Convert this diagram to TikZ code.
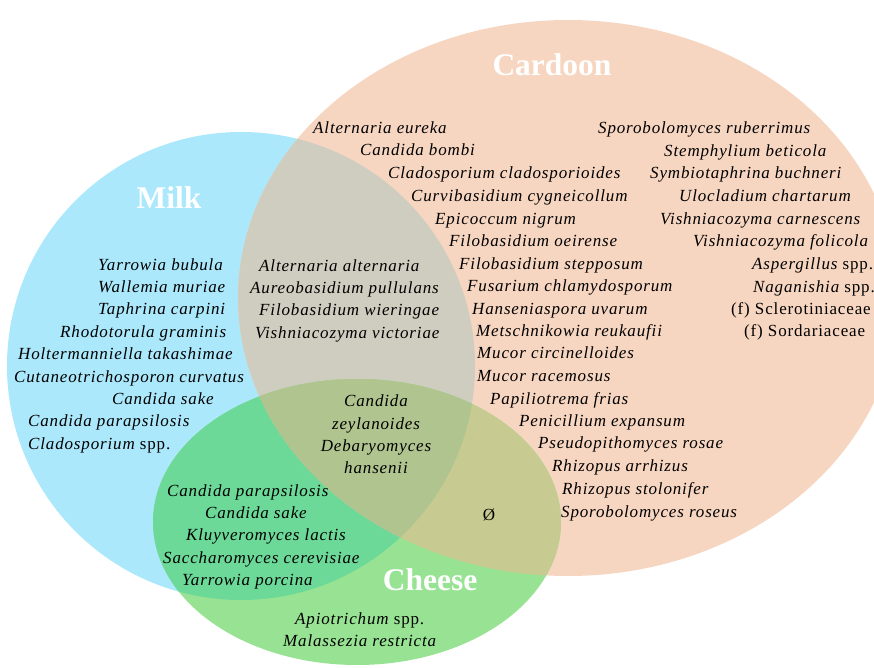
\documentclass[tikz,border=0pt]{standalone}
\usepackage{fontspec}
\setmainfont{Liberation Serif}
\newfontfamily\lstfont{Liberation Serif}[LetterSpace=5]
\definecolor{milkc}{HTML}{ABE8FB}
\definecolor{cardc}{HTML}{F7D6C1}
\definecolor{cheesec}{HTML}{98E393}
\definecolor{mcardc}{HTML}{CFCDBF}
\definecolor{mcheesec}{HTML}{6CD998}
\definecolor{ccheesec}{HTML}{C8CB91}
\definecolor{allc}{HTML}{B0C48F}
\begin{document}
\begin{tikzpicture}[x=1pt,y=-1pt,
  lbl/.style={anchor=base west, inner sep=0pt, font=\lstfont\fontsize{17}{18}\selectfont\itshape},
  clbl/.style={anchor=base, inner sep=0pt, font=\lstfont\fontsize{17}{18}\selectfont\itshape},
  ttl/.style={font=\fontsize{31.5}{34}\selectfont\bfseries, text=white, inner sep=0pt}]
\useasboundingbox (0,0) rectangle (874,668);
\clip (0,0) rectangle (874,668);
% base sets
\fill[milkc] (241,366) circle [radius=234pt];
\fill[cardc] (568,298) ellipse [x radius=330pt, y radius=278pt];
\begin{scope}
  \clip (241,366) circle [radius=234pt];
  \fill[mcardc] (568,298) ellipse [x radius=330pt, y radius=278pt];
\end{scope}
\fill[cheesec] (357,522) ellipse [x radius=204pt, y radius=143pt];
\begin{scope}
  \clip (241,366) circle [radius=234pt];
  \fill[mcheesec] (357,522) ellipse [x radius=204pt, y radius=143pt];
\end{scope}
\begin{scope}
  \clip (568,298) ellipse [x radius=330pt, y radius=278pt];
  \fill[ccheesec] (357,522) ellipse [x radius=204pt, y radius=143pt];
\end{scope}
\begin{scope}
  \clip (241,366) circle [radius=234pt];
  \clip (568,298) ellipse [x radius=330pt, y radius=278pt];
  \fill[allc] (357,522) ellipse [x radius=204pt, y radius=143pt];
\end{scope}
% titles
\node[ttl] (tcard) at (552,65) {Cardoon};
\node[ttl] (tmilk) at (169,198) {Milk};
\node[ttl] (tcheese) at (430,580) {Cheese};
% milk only
\node[lbl] (m1) at (98,270) {Yarrowia bubula};
\node[lbl] (m2) at (98,292) {Wallemia muriae};
\node[lbl] (m3) at (98,314) {Taphrina carpini};
\node[lbl] (m4) at (60,337) {Rhodotorula graminis};
\node[lbl] (m5) at (18,359) {Holtermanniella takashimae};
\node[lbl] (m6) at (14,382) {Cutaneotrichosporon curvatus};
\node[lbl] (m7) at (112,404) {Candida sake};
\node[lbl] (m8) at (28,426) {Candida parapsilosis};
\node[lbl] (m9) at (28,449) {Cladosporium \upshape spp.};
% milk and cardoon
\node[lbl] (mc1) at (259,271) {Alternaria alternaria};
\node[lbl] (mc2) at (250,293) {Aureobasidium pullulans};
\node[lbl] (mc3) at (259,315) {Filobasidium wieringae};
\node[lbl] (mc4) at (255,338) {Vishniacozyma victoriae};
% cardoon left column
\node[lbl] (c1) at (313,134) {Alternaria eureka};
\node[lbl] (c2) at (360,156) {Candida bombi};
\node[lbl] (c3) at (388,179) {Cladosporium cladosporioides};
\node[lbl] (c4) at (411,201) {Curvibasidium cygneicollum};
\node[lbl] (c5) at (435,224) {Epicoccum nigrum};
\node[lbl] (c6) at (449,246) {Filobasidium oeirense};
\node[lbl] (c7) at (459,269) {Filobasidium stepposum};
\node[lbl] (c8) at (467,291) {Fusarium chlamydosporum};
\node[lbl] (c9) at (472,314) {Hanseniaspora uvarum};
\node[lbl] (c10) at (476,336) {Metschnikowia reukaufii};
\node[lbl] (c11) at (477,358) {Mucor circinelloides};
\node[lbl] (c12) at (477,381) {Mucor racemosus};
\node[lbl] (c13) at (490,404) {Papiliotrema frias};
\node[lbl] (c14) at (519,426) {Penicillium expansum};
\node[lbl] (c15) at (538,448) {Pseudopithomyces rosae};
\node[lbl] (c16) at (552,471) {Rhizopus arrhizus};
\node[lbl] (c17) at (562,494) {Rhizopus stolonifer};
\node[lbl] (c18) at (561,517) {Sporobolomyces roseus};
% cardoon right column
\node[lbl] (r1) at (598,134) {Sporobolomyces ruberrimus};
\node[lbl] (r2) at (664,157) {Stemphylium beticola};
\node[lbl] (r3) at (650,179) {Symbiotaphrina buchneri};
\node[lbl] (r4) at (679,202) {Ulocladium chartarum};
\node[lbl] (r5) at (660,224) {Vishniacozyma carnescens};
\node[lbl] (r6) at (693,246) {Vishniacozyma folicola};
\node[lbl] (r7) at (752,269) {Aspergillus \upshape spp.};
\node[lbl] (r8) at (753,292) {Naganishia \upshape spp.};
\node[lbl,font=\lstfont\fontsize{17}{18}\selectfont] (r9) at (731,314) {(f) Sclerotiniaceae};
\node[lbl,font=\lstfont\fontsize{17}{18}\selectfont] (r10) at (744,336) {(f) Sordariaceae};
% all three
\node[clbl] (a1) at (376,406) {Candida};
\node[clbl] (a2) at (376,429) {zeylanoides};
\node[clbl] (a3) at (376,451) {Debaryomyces};
\node[clbl] (a4) at (376,473) {hansenii};
% milk and cheese
\node[lbl] (mh1) at (167,496) {Candida parapsilosis};
\node[lbl] (mh2) at (205,518) {Candida sake};
\node[lbl] (mh3) at (186,540) {Kluyveromyces lactis};
\node[lbl] (mh4) at (163,563) {Saccharomyces cerevisiae};
\node[lbl] (mh5) at (182,585) {Yarrowia porcina};
% cardoon and cheese
\node[inner sep=0pt, font=\fontsize{17}{18}\selectfont] (ch0) at (489,515) {Ø};
% cheese only
\node[lbl] (h1) at (295,624) {Apiotrichum \upshape spp.};
\node[lbl] (h2) at (283,646) {Malassezia restricta};
\end{tikzpicture}
\end{document}
